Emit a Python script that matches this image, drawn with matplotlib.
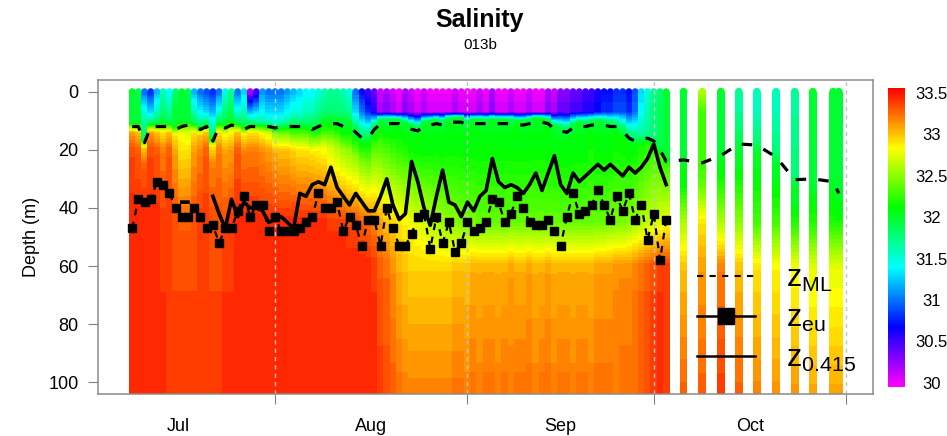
import numpy as np
import matplotlib
matplotlib.use('agg')
import matplotlib.pyplot as plt
from matplotlib.colors import ListedColormap, Normalize, hsv_to_rgb
from matplotlib.cm import ScalarMappable
from matplotlib.lines import Line2D

plt.rcParams['font.family'] = ['Liberation Sans', 'DejaVu Sans']
plt.rcParams['mathtext.fontset'] = 'custom'
plt.rcParams['mathtext.rm'] = 'Liberation Sans'

# profile times, days since 1 July (daily casts Jul-Sep, then every ~3 days in Oct)
prof_day = [8, 9, 10, 11, 12, 13, 14, 15, 16, 17,
            18, 19, 20, 21, 22, 23, 24, 25, 26, 27,
            28, 29, 30, 31, 32, 33, 34, 35, 36, 37,
            38, 39, 40, 41, 42, 43, 44, 45, 46, 47,
            48, 49, 50, 51, 52, 53, 54, 55, 56, 57,
            58, 59, 60, 61, 62, 63, 64, 65, 66, 67,
            68, 69, 70, 71, 72, 73, 74, 75, 76, 77,
            78, 79, 80, 81, 82, 83, 84, 85, 86, 87,
            88, 89, 90, 91, 92, 93, 94,
            96.8, 99.8, 102.8, 105.7, 108.6, 111.7, 114.7, 117.6, 120.9, 121.8]

# mixed layer depth (m), all profiles
z_ml = [12, 12, 17.5, 12, 12, 12, 12, 13, 12, 11.5,
        12, 13, 12, 17, 12, 12.5, 11.5, 12, 13, 12,
        12, 12, 12, 12.5, 12, 12, 12, 12, 12, 13,
        12, 11, 11, 11, 12, 12, 14, 16, 16, 13,
        11, 11, 11, 11, 12, 13, 13.5, 12, 11.5, 11,
        11.5, 10.5, 10.5, 10.5, 11.5, 11, 11, 11, 11, 11,
        11, 11, 11.5, 11.5, 11, 10.5, 10.5, 11, 13, 13.5,
        14, 12.5, 12, 12, 11.5, 11.5, 11.5, 12, 12, 13.5,
        16, 17, 16.5, 16, 17, 20, 24,
        23.5, 24.5, 22, 18, 18.4, 22.5, 30.3, 30, 31, 35]

# euphotic depth (m), daily profiles only
z_eu = [47, 37, 38, 37, 31, 32, 35, 40, 43, 43,
        40, 43, 47, 46, 52, 47, 47, 41, 36, 43,
        39, 39, 48, 43, 48, 48, 48, 47, 45, 43,
        35, 40, 40, 38, 48, 43, 46, 53, 44, 44,
        53, 40, 47, 53, 53, 49, 43, 42, 54, 43,
        52, 45, 55, 52, 45, 48, 47, 45, 37, 38,
        45, 42, 36, 40, 45, 46, 46, 44, 48, 53,
        43, 35, 42, 41, 39, 34, 39, 44, 36, 41,
        35, 44, 39, 51, 42, 58, 44]

# depth of 0.415 isolume (m), daily profiles only
nan = np.nan
z_415 = [nan, nan, nan, nan, nan, nan, nan, nan, 38, 38,
         nan, nan, nan, 36, 42, 47, 37, 43, 38, 40,
         40, 41, 45, 44, 43, 45, 47, 35, 36, 32,
         31, 32, 26, 33, 36, 39, 35, 38, 41, 41,
         36, 30, 39, 44, 42, 24, 31, 40, 46, 36,
         27, 38, 39, 43, 38, 41, 36, 34, 23, 31,
         33, 32, 33, 35, 32, 28, 34, 28, 22, 32,
         35, 28, 31, 29, 27, 25, 27, 25, 27, 29,
         26, 28, 26, 23, 18, 26, 32]

# salinity read at: surface, 7 m, just above ML, just below ML, 8 m below ML, 45 m, 60 m, bottom
sal_0 = [32.0, 31.9, 31.0, 30.8, 31.2, 31.6, 31.4, 31.8, 32.0, 31.9,
         31.2, 31.0, 30.9, 30.8, 31.0, 31.5, 31.7, 31.0, 31.3, 30.2,
         30.5, 31.1, 31.0, 31.0, 31.0, 31.1, 31.2, 31.3, 31.4, 31.4,
         31.5, 31.6, 31.7, 31.7, 31.6, 31.5, 31.0, 30.7, 30.5, 30.4,
         30.1, 30.2, 30.1, 30.0, 30.2, 30.1, 30.0, 30.1, 30.0, 30.0,
         30.0, 30.0, 30.1, 30.0, 30.0, 30.0, 30.1, 30.0, 30.2, 30.0,
         30.0, 30.1, 30.0, 30.0, 30.1, 30.0, 30.0, 30.2, 30.1, 30.3,
         30.3, 30.4, 30.4, 30.5, 30.5, 30.6, 30.7, 30.7, 30.8, 30.8,
         30.7, 30.9, 31.3, 31.5, 31.7, 31.8, 32.0,
         32.0, 32.6, 32.0, 31.7, 31.6, 31.6, 31.7, 32.0, 32.0, 32.0]
sal_7 = [32.0, 32.0, 31.5, 31.3, 31.6, 31.8, 31.7, 32.0, 32.0, 32.0,
         31.6, 31.4, 31.3, 31.2, 31.5, 31.8, 31.9, 31.5, 31.6, 31.2,
         31.3, 31.4, 31.3, 31.3, 31.3, 31.4, 31.5, 31.5, 31.6, 31.6,
         31.7, 31.8, 31.8, 31.8, 31.8, 31.7, 31.3, 31.0, 30.8, 30.6,
         30.2, 30.3, 30.2, 30.1, 30.3, 30.2, 30.1, 30.2, 30.1, 30.1,
         30.1, 30.1, 30.2, 30.1, 30.1, 30.1, 30.2, 30.1, 30.3, 30.1,
         30.1, 30.2, 30.1, 30.1, 30.2, 30.1, 30.1, 30.3, 30.2, 30.4,
         30.4, 30.5, 30.5, 30.6, 30.6, 30.7, 30.8, 30.8, 30.9, 30.9,
         30.8, 31.0, 31.4, 31.6, 31.8, 31.9, 32.0,
         32.0, 32.3, 32.0, 31.7, 31.6, 31.6, 31.7, 32.0, 32.0, 32.0]
sal_ml = [32.0, 32.0, 31.9, 31.8, 31.9, 32.0, 31.9, 32.0, 32.0, 32.0,
          31.9, 31.8, 31.8, 31.9, 31.9, 32.0, 32.0, 31.9, 31.9, 31.8,
          31.7, 31.7, 31.6, 31.6, 31.6, 31.7, 31.8, 31.8, 31.8, 31.9,
          31.9, 32.0, 32.0, 32.0, 32.0, 32.0, 31.9, 31.8, 31.8, 31.8,
          31.9, 31.9, 32.0, 31.9, 32.0, 32.0, 31.9, 32.0, 32.0, 31.9,
          31.9, 31.9, 32.0, 32.0, 31.9, 32.0, 32.0, 31.9, 32.0, 32.0,
          32.0, 31.9, 32.0, 32.0, 31.9, 32.0, 32.0, 31.9, 32.0, 31.9,
          31.9, 31.9, 32.0, 31.9, 31.9, 32.0, 31.9, 31.9, 31.8, 31.8,
          31.8, 31.8, 31.7, 31.7, 31.8, 31.9, 32.0,
          32.0, 32.3, 32.0, 31.9, 31.8, 31.8, 31.8, 32.0, 32.0, 32.0]
sal_b = [33.1, 33.0, 33.0, 33.1, 33.0, 32.9, 33.0, 32.9, 32.8, 32.7,
         32.9, 33.0, 33.0, 32.9, 32.9, 32.8, 32.8, 33.0, 32.9, 32.9,
         32.9, 32.8, 32.7, 32.5, 32.4, 32.4, 32.3, 32.3, 32.3, 32.3,
         32.2, 32.2, 32.2, 32.15, 32.1, 32.1, 32.1, 32.1, 32.1, 32.1,
         32.1, 32.05, 32.05, 32.1, 32.05, 32.05, 32.1, 32.05, 32.05, 32.05,
         32.05, 32.1, 32.05, 32.05, 32.05, 32.1, 32.05, 32.05, 32.05, 32.05,
         32.05, 32.05, 32.1, 32.05, 32.05, 32.05, 32.05, 32.1, 32.05, 32.05,
         32.05, 32.05, 32.05, 32.05, 32.1, 32.05, 32.05, 32.05, 32.1, 32.1,
         32.1, 32.1, 32.15, 32.2, 32.2, 32.25, 32.3,
         32.05, 32.3, 32.05, 32.0, 32.0, 32.0, 32.0, 32.0, 32.05, 32.05]
sal_b8 = [33.35, 33.3, 33.3, 33.35, 33.3, 33.2, 33.3, 33.1, 32.9, 32.9,
          33.1, 33.2, 33.3, 33.2, 33.2, 33.1, 33.1, 33.3, 33.2, 33.2,
          33.2, 33.15, 33.1, 33.05, 33.0, 33.0, 32.95, 32.9, 32.9, 32.9,
          32.85, 32.8, 32.7, 32.6, 32.55, 32.5, 32.5, 32.45, 32.4, 32.4,
          32.35, 32.3, 32.25, 32.2, 32.2, 32.15, 32.15, 32.1, 32.1, 32.1,
          32.1, 32.1, 32.1, 32.1, 32.1, 32.1, 32.1, 32.1, 32.1, 32.1,
          32.1, 32.1, 32.1, 32.1, 32.1, 32.1, 32.1, 32.1, 32.1, 32.1,
          32.1, 32.1, 32.1, 32.1, 32.15, 32.1, 32.1, 32.1, 32.15, 32.15,
          32.15, 32.2, 32.25, 32.3, 32.35, 32.4, 32.45,
          32.1, 32.4, 32.15, 32.05, 32.05, 32.05, 32.05, 32.1, 32.1, 32.1]
sal_45 = [33.45, 33.45, 33.45, 33.45, 33.45, 33.4, 33.4, 33.35, 33.3, 33.3,
          33.35, 33.4, 33.4, 33.35, 33.35, 33.35, 33.4, 33.45, 33.45, 33.45,
          33.45, 33.45, 33.45, 33.45, 33.45, 33.45, 33.45, 33.45, 33.45, 33.45,
          33.45, 33.45, 33.4, 33.4, 33.4, 33.35, 33.35, 33.3, 33.25, 33.2,
          33.1, 33.0, 32.95, 32.9, 32.85, 32.8, 32.75, 32.7, 32.65, 32.6,
          32.55, 32.5, 32.5, 32.45, 32.45, 32.45, 32.4, 32.4, 32.4, 32.4,
          32.4, 32.4, 32.4, 32.4, 32.4, 32.4, 32.4, 32.4, 32.4, 32.4,
          32.4, 32.4, 32.4, 32.4, 32.4, 32.4, 32.4, 32.45, 32.45, 32.45,
          32.5, 32.55, 32.6, 32.65, 32.7, 32.75, 32.8,
          32.6, 32.9, 32.6, 32.5, 32.3, 32.3, 32.2, 32.2, 32.2, 32.2]
sal_60 = [33.45, 33.45, 33.45, 33.45, 33.45, 33.4, 33.4, 33.35, 33.35, 33.35,
          33.35, 33.4, 33.4, 33.35, 33.35, 33.4, 33.4, 33.45, 33.45, 33.45,
          33.45, 33.45, 33.45, 33.45, 33.45, 33.45, 33.45, 33.45, 33.45, 33.45,
          33.45, 33.45, 33.45, 33.45, 33.45, 33.45, 33.45, 33.45, 33.45, 33.4,
          33.3, 33.25, 33.15, 33.05, 33.0, 32.95, 32.95, 32.95, 32.95, 32.95,
          32.95, 32.95, 33.0, 33.0, 33.0, 33.05, 33.05, 33.05, 33.05, 33.05,
          33.05, 33.1, 33.05, 33.05, 33.1, 33.05, 33.05, 33.1, 33.05, 33.05,
          33.05, 33.05, 33.05, 33.05, 33.05, 33.1, 33.1, 33.1, 33.15, 33.15,
          33.15, 33.2, 33.25, 33.3, 33.35, 33.4, 33.4,
          33.0, 33.1, 33.2, 33.0, 32.9, 32.85, 32.8, 32.75, 32.75, 32.75]
sal_100 = [33.45, 33.45, 33.45, 33.45, 33.45, 33.45, 33.4, 33.4, 33.4, 33.4,
           33.4, 33.4, 33.4, 33.4, 33.4, 33.45, 33.45, 33.45, 33.45, 33.45,
           33.45, 33.45, 33.45, 33.45, 33.45, 33.45, 33.45, 33.45, 33.45, 33.45,
           33.45, 33.45, 33.45, 33.45, 33.45, 33.45, 33.45, 33.45, 33.45, 33.45,
           33.4, 33.35, 33.3, 33.25, 33.2, 33.2, 33.2, 33.2, 33.2, 33.2,
           33.2, 33.2, 33.25, 33.25, 33.2, 33.25, 33.2, 33.25, 33.25, 33.2,
           33.25, 33.2, 33.25, 33.25, 33.25, 33.2, 33.25, 33.25, 33.2, 33.25,
           33.25, 33.2, 33.25, 33.25, 33.2, 33.25, 33.25, 33.25, 33.2, 33.25,
           33.25, 33.25, 33.3, 33.35, 33.4, 33.45, 33.4,
           33.3, 33.3, 33.4, 33.3, 33.2, 33.15, 33.15, 33.1, 33.1, 33.1]

month_labels = ['Jul', 'Aug', 'Sep', 'Oct']
month_mid = [15.5, 46.5, 77, 107.5]
month_start = [31, 62, 92, 123]
depth_ticks = [0, 20, 40, 60, 80, 100]
cbar_ticks = [30, 30.5, 31, 31.5, 32, 32.5, 33, 33.5]
cbar_labels = ['30', '30.5', '31', '31.5', '32', '32.5', '33', '33.5']

# R style rainbow: magenta (fresh) -> red (salty)
hue = np.linspace(5 / 6, 0, 256)
cmap = ListedColormap(hsv_to_rgb(np.column_stack([hue, np.ones(256), np.ones(256)])))
norm = Normalize(29.95, 33.56)
levels = np.linspace(29.95, 33.56, 73)

fig = plt.figure(figsize=(9.47, 4.36), dpi=100)
ax = fig.add_axes([98 / 947, 42 / 436, 775 / 947, 314 / 436])

n_dense = len(z_eu)
for i, t in enumerate(prof_day):
    hw = 0.55 if i < n_dense else 0.62
    zm = z_ml[i]
    dep = [0, 7, zm - 1.5, zm + 2, zm + 8, 45, 60, 106]
    sal = [sal_0[i], sal_7[i], sal_ml[i], sal_b[i], sal_b8[i],
           sal_45[i], sal_60[i], sal_100[i]]
    ax.contourf([t - hw, t + hw], dep, np.column_stack([sal, sal]),
                levels=levels, cmap=cmap, norm=norm, extend='both',
                antialiased=False, zorder=1)

# rounded tops of the casts
cap = [24 if i < n_dense else 30 for i in range(len(prof_day))]
ax.scatter(prof_day, np.zeros(len(prof_day)), c=sal_0, s=cap, cmap=cmap,
           norm=norm, marker='o', linewidths=0, zorder=1)

for m in month_start:
    ax.axvline(m, color='#c4c4c4', lw=1, ls=(0, (3, 3)), zorder=2)

ax.plot(prof_day, z_ml, color='k', lw=2.3, ls=(0, (3.3, 3.8)), zorder=4)
ax.plot(prof_day[:n_dense], z_eu, color='k', lw=1.6, ls=(0, (3, 3)),
        marker='s', ms=5.5, zorder=4)
ax.plot(prof_day[:n_dense], z_415, color='k', lw=2.6, zorder=4)

ax.set_xlim(2.5, 127.3)
ax.set_ylim(104, -4)

ax.set_yticks(depth_ticks)
ax.set_xticks(month_start)
ax.set_xticklabels([])
ax.set_xticks(month_mid, minor=True)
ax.set_xticklabels(month_labels, minor=True)
ax.tick_params(axis='x', which='major', length=7, color='#808080')
ax.tick_params(axis='x', which='minor', length=0, pad=17, labelsize=13)
ax.tick_params(axis='y', length=7, color='#808080', pad=7, labelsize=13)
for sp in ax.spines.values():
    sp.set_color('#8c8c8c')
    sp.set_linewidth(1.1)
ax.set_ylabel('Depth (m)', fontsize=13, labelpad=6)

handles = [Line2D([], [], color='k', lw=1.5, ls=(0, (3, 3))),
           Line2D([], [], color='k', lw=1.8, marker='s', ms=11),
           Line2D([], [], color='k', lw=1.8)]
labels = [r'$\mathrm{z}_{\mathrm{ML}}$', r'$\mathrm{z}_{\mathrm{eu}}$',
          r'$\mathrm{z}_{\mathrm{0.415}}$']
ax.legend(handles, labels, loc='center left', bbox_to_anchor=(0.773, 0.24),
          frameon=False, fontsize=22, handlelength=1.9, handletextpad=1.0,
          labelspacing=0.32, borderpad=0, borderaxespad=0)

fig.text(480 / 947, 1 - 20 / 436, 'Salinity', ha='center', va='center',
         fontsize=18, fontweight='bold')
fig.text(480 / 947, 1 - 45 / 436, '013b', ha='center', va='center', fontsize=11)

cax = fig.add_axes([888 / 947, 49 / 436, 17 / 947, 299 / 436])
cb = fig.colorbar(ScalarMappable(norm=norm, cmap=cmap), cax=cax, ticks=cbar_ticks)
cb.ax.set_yticklabels(cbar_labels)
cb.outline.set_visible(False)
cb.ax.tick_params(length=0, pad=19, labelsize=12)
for lbl in cb.ax.get_yticklabels():
    lbl.set_ha('center')

fig.savefig('out.png', dpi=100)
